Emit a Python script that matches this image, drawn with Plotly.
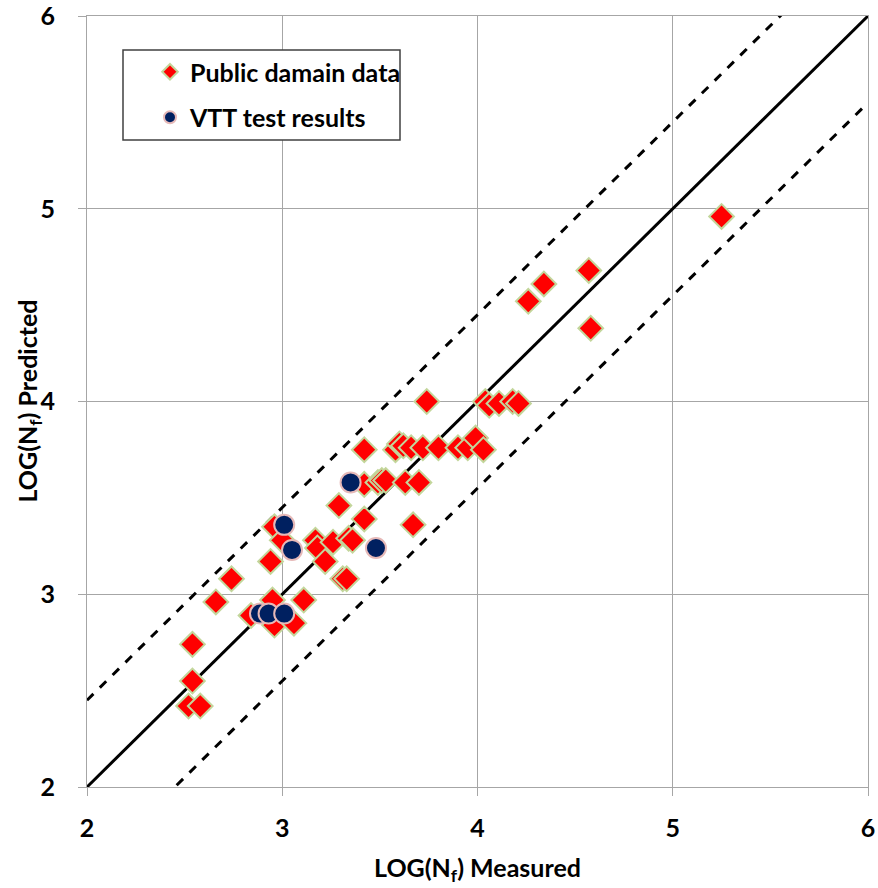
import plotly.graph_objects as go

# Public domain data (measured, predicted)
pub_x = [5.25, 4.57, 4.34, 4.26, 4.58, 3.74, 4.04, 4.06, 4.11, 4.18, 4.21,
         3.42, 3.58, 3.60, 3.62, 3.66, 3.72, 3.80, 3.90, 3.95, 3.99, 4.03,
         3.42, 3.49, 3.51, 3.53, 3.63, 3.70, 3.29, 3.42, 3.67,
         3.17, 3.18, 3.26, 3.34, 3.36, 3.22, 2.94, 3.31, 3.33, 2.74,
         2.66, 2.95, 3.11, 2.84, 2.96, 3.06, 2.54, 2.54, 2.52, 2.58,
         2.96, 3.00]
pub_y = [4.96, 4.68, 4.61, 4.52, 4.38, 4.00, 4.00, 3.98, 3.99, 4.00, 3.99,
         3.75, 3.75, 3.78, 3.77, 3.76, 3.76, 3.76, 3.76, 3.76, 3.81, 3.75,
         3.57, 3.58, 3.59, 3.59, 3.58, 3.58, 3.46, 3.39, 3.36,
         3.28, 3.24, 3.27, 3.29, 3.28, 3.17, 3.17, 3.08, 3.08, 3.08,
         2.96, 2.97, 2.97, 2.89, 2.84, 2.85, 2.74, 2.55, 2.42, 2.42,
         3.35, 3.28]

# VTT test results
vtt_x = [3.35, 3.01, 3.05, 3.48, 2.886, 2.93, 3.01]
vtt_y = [3.58, 3.36, 3.23, 3.24, 2.90, 2.90, 2.90]

# Reference lines
line_x = [2, 6]
band = 0.45

FONT = "Lato"
grid_col = "#a6a6a6"

fig = go.Figure()

fig.add_trace(go.Scatter(x=line_x, y=line_x, mode="lines",
                         line=dict(color="black", width=3), showlegend=False,
                         hoverinfo="skip"))
fig.add_trace(go.Scatter(x=line_x, y=[v + band for v in line_x], mode="lines",
                         line=dict(color="black", width=3, dash="dash"),
                         showlegend=False, hoverinfo="skip"))
fig.add_trace(go.Scatter(x=line_x, y=[v - band for v in line_x], mode="lines",
                         line=dict(color="black", width=3, dash="dash"),
                         showlegend=False, hoverinfo="skip"))

fig.add_trace(go.Scatter(x=pub_x, y=pub_y, mode="markers", name="Public damain data",
                         legendgroup="a",
                         marker=dict(symbol="diamond", size=19, color="#ff0000",
                                     line=dict(color="#c3d69b", width=2))))
fig.add_trace(go.Scatter(x=vtt_x, y=vtt_y, mode="markers", name="VTT test results",
                         legendgroup="b",
                         marker=dict(symbol="circle", size=20, color="#002060",
                                     line=dict(color="#e6b9b8", width=2))))

# legend frame (paper coords)
fig.add_shape(type="rect", xref="paper", yref="paper",
              x0=(123 - 87) / 781, x1=(400 - 87) / 781,
              y0=(787 - 140) / 771, y1=(787 - 50) / 771,
              line=dict(color="#404040", width=1.5), fillcolor="white", layer="above")

# y-axis title placed as annotation
fig.add_annotation(text="LOG(N<sub>f</sub>) Predicted", xref="paper", yref="paper",
                   x=(28 - 87) / 781, y=0.5, xanchor="center", yanchor="middle",
                   textangle=-90, showarrow=False,
                   font=dict(family=FONT, size=25, color="black", weight="bold"))

fig.update_layout(
    width=878, height=888,
    margin=dict(l=87, r=10, t=16, b=101, autoexpand=False),
    plot_bgcolor="white", paper_bgcolor="white",
    font=dict(family=FONT, size=20, color="black"),
    legend=dict(x=(150 - 87) / 781, y=(787 - 49) / 771, xanchor="left", yanchor="top",
                borderwidth=0, bgcolor="rgba(0,0,0,0)",
                font=dict(family=FONT, size=25, color="black", weight="bold"),
                itemsizing="constant", traceorder="grouped", tracegroupgap=10),
)
fig.update_xaxes(range=[2, 6], dtick=1, tick0=2, showgrid=True, gridcolor=grid_col,
                 gridwidth=1, showline=True, linecolor=grid_col, linewidth=1, mirror=True,
                 ticks="outside", ticklen=8, tickcolor=grid_col, zeroline=False,
                 automargin=False, ticklabelstandoff=11, ticklabeloverflow="allow",
                 tickfont=dict(family=FONT, size=25, color="black", weight="bold"),
                 title=dict(text="LOG(N<sub>f</sub>) Measured", standoff=18,
                            font=dict(family=FONT, size=25, color="black", weight="bold")))
fig.update_yaxes(range=[2, 6], dtick=1, tick0=2, showgrid=True, gridcolor=grid_col,
                 gridwidth=1, showline=True, linecolor=grid_col, linewidth=1, mirror=True,
                 ticks="outside", ticklen=8, tickcolor=grid_col, zeroline=False,
                 automargin=False, ticklabelstandoff=18, ticklabeloverflow="allow",
                 tickfont=dict(family=FONT, size=25, color="black", weight="bold"))

fig.write_html("out.html")
